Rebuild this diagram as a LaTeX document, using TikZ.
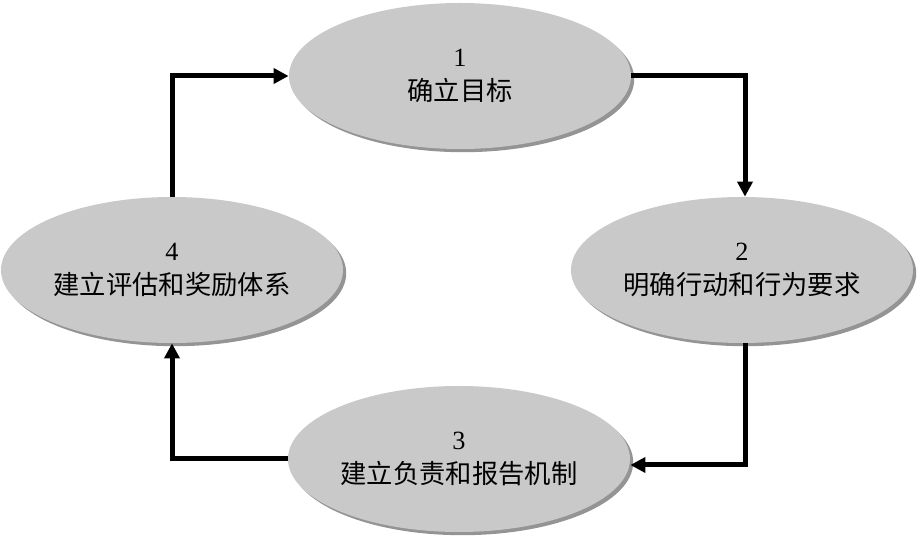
\documentclass[tikz,border=0pt]{standalone}
\usepackage{fontspec}
\setmainfont{Liberation Serif}
\newfontfamily\cjk{Noto Sans CJK SC}
\usetikzlibrary{
		arrows.meta,
		shapes.geometric,
		shadows
	}
\tikzset{
		>={Triangle[length=7.5bp,width=7.5bp]},
		stage/.style={ellipse, fill=black!21, inner sep=0pt,
			minimum width=171bp, minimum height=73bp,
			align=center, font=\fontsize{13.2}{17}\selectfont,
			drop shadow={shadow xshift=1.6bp, shadow yshift=-1.6bp,
				fill=black!42, opacity=1}},
		flow/.style={->, line width=2.5bp}
	}
\begin{document}
\begin{tikzpicture}[x=0.5bp,y=-0.5bp]
          \useasboundingbox (0,0) rectangle (919,537);

          \node[stage] (S1) at (460,76)  {1\\{\cjk 确立目标}};
          \node[stage] (S2) at (742,270) {2\\{\cjk 明确行动和行为要求}};
          \node[stage] (S3) at (459,459) {3\\{\cjk 建立负责和报告机制}};
          \node[stage] (S4) at (172,270) {4\\{\cjk 建立评估和奖励体系}};

          \draw[flow] (S1.east) -| ([xshift=1.5bp]S2.north);
          \draw[flow] ([xshift=1.5bp]S2.south) |- ([yshift=-3bp]S3.east);
          \draw[flow] (S3.west) -| (S4.south);
          \draw[flow] (S4.north) |- (S1.west);

          \end{tikzpicture}
\end{document}
